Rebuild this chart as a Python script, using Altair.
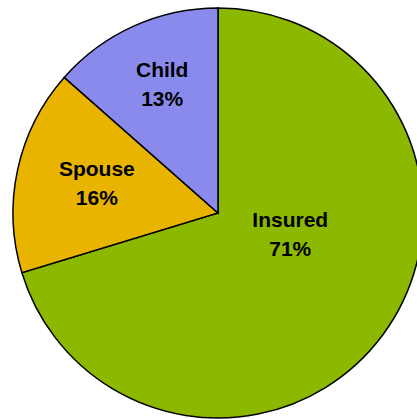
import altair as alt
import pandas as pd

categories = ["Insured", "Spouse", "Child"]
shares = [70.3, 16.2, 13.5]
pct_labels = ["71%", "16%", "13%"]
colors = ["#8CB800", "#E8B400", "#8A8AEC"]

df = pd.DataFrame({
    "cat": categories,
    "value": shares,
    "pct": pct_labels,
    "idx": list(range(len(categories))),
})

total = sum(shares)
theta_scale = alt.Scale(domain=[0, total])

arcs = alt.Chart(df).mark_arc(outerRadius=205, stroke="black", strokeWidth=1.5).encode(
    theta=alt.Theta("value:Q", stack=True, scale=theta_scale),
    order=alt.Order("idx:Q"),
    x=alt.value(218),
    y=alt.value(213),
    color=alt.Color("cat:N", scale=alt.Scale(domain=categories, range=colors), legend=None),
)

txt_base = alt.Chart(df).transform_window(
    cum="sum(value)", sort=[alt.SortField("idx")]
).transform_calculate(
    mid="datum.cum - datum.value / 2",
    label="datum.cat + '\\n' + datum.pct",
).encode(
    theta=alt.Theta("mid:Q", stack=None, scale=theta_scale),
    x=alt.value(218),
    y=alt.value(213),
    text="label:N",
)

txt_style = dict(font="Liberation Sans", fontSize=21, fontWeight="bold",
                 lineBreak="\n", lineHeight=29, align="center", baseline="middle", color="black")

small_labels = txt_base.transform_filter("datum.cat != 'Insured'").transform_calculate(
    r="datum.cat == 'Child' ? 138 : 125"
).mark_text(dx=1, dy=-16, **txt_style).encode(
    radius=alt.Radius("r:Q", scale=None),
)

big_label = txt_base.transform_filter("datum.cat == 'Insured'").mark_text(
    dx=12, dy=-37, **txt_style
).encode(
    radius=alt.value(75),
)

chart = alt.layer(arcs, small_labels, big_label).properties(
    width=417, height=419, autosize=alt.AutoSizeParams(type="none"), padding=0
).configure_view(stroke=None)

chart.save("out.html", embed_options={"renderer": "svg", "actions": False})
